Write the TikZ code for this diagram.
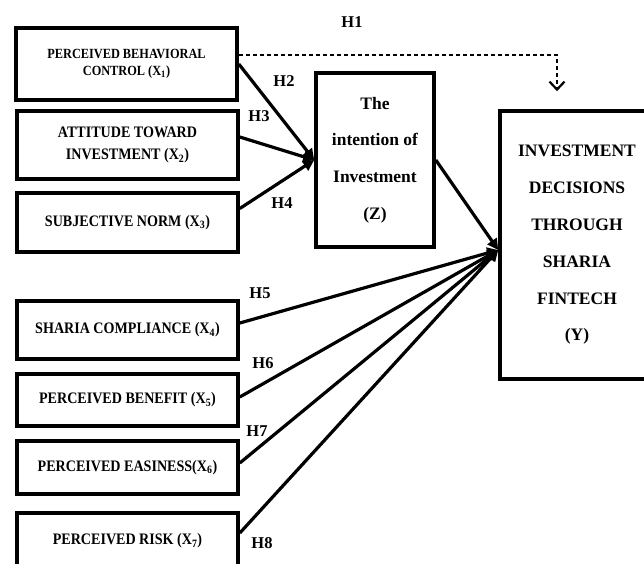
\documentclass[tikz,border=0pt]{standalone}
\usepackage{fontspec}
\setmainfont{Liberation Serif}
\newfontfamily\condfont{Liberation Serif}[FakeStretch=0.88]
\usepackage{tikz}
\usetikzlibrary{arrows.meta}
\tikzset{
  varbox/.style={rectangle,draw=black,line width=3.6pt,minimum width=221pt,align=center,inner sep=2pt,
    font=\condfont\bfseries\fontsize{16}{22}\selectfont},
  latbox/.style={rectangle,draw=black,line width=3.6pt,align=center,inner sep=2pt,
    font=\bfseries\fontsize{17.5}{36.8}\selectfont},
  link/.style={line width=3.2pt,-{Triangle[length=11pt,width=11pt]}},
  hlink/.style={line width=1.7pt,dash pattern=on 4pt off 3pt,-{Straight Barb[length=8pt,width=15pt,line width=2.2pt]}},
  hlab/.style={font=\bfseries\fontsize{16.5}{18}\selectfont,inner sep=0pt},
}

\begin{document}
\begin{tikzpicture}[x=1pt,y=-1pt]
  \useasboundingbox (0,0) rectangle (644,563);

  % exogenous variables
  \node[varbox,minimum height=72pt,font=\condfont\bfseries\fontsize{14}{17}\selectfont] (x1) at (126.5,64) {PERCEIVED BEHAVIORAL\\CONTROL (X\textsubscript{1})};
  \node[varbox,minimum height=68pt] (x2) at (127.5,145) {ATTITUDE TOWARD\\INVESTMENT (X\textsubscript{2})};
  \node[varbox,minimum height=59pt] (x3) at (127.5,222.5) {SUBJECTIVE NORM (X\textsubscript{3})};
  \node[varbox,minimum height=58pt] (x4) at (127.5,330) {SHARIA COMPLIANCE (X\textsubscript{4})};
  \node[varbox,minimum height=52pt] (x5) at (127.5,400) {PERCEIVED BENEFIT (X\textsubscript{5})};
  \node[varbox,minimum height=53pt] (x6) at (127.5,467.5) {PERCEIVED EASINESS(X\textsubscript{6})};
  \node[varbox,minimum height=56pt] (x7) at (127.5,541) {PERCEIVED RISK (X\textsubscript{7})};
  % intervening and dependent variables
  \node[latbox,minimum width=118pt,minimum height=174pt] (z) at (375,160) {The\\intention of\\Investment\\(Z)};
  \node[latbox,minimum width=154pt,minimum height=268pt] (y) at (577,245) {INVESTMENT\\DECISIONS\\THROUGH\\SHARIA\\FINTECH\\(Y)};

  % paths to Z
  \draw[link] (x1.east) -- (z.west);
  \draw[link] ([yshift=8pt]x2.east) -- (z.west);
  \draw[link] ([yshift=14pt]x3.east) -- (z.west);
  % paths to Y
  \draw[link] (z.east) -- ([yshift=-5pt]y.west);
  \draw[link] ([yshift=7pt]x4.east) -- ([yshift=-5pt]y.west);
  \draw[link] ([yshift=3pt]x5.east) -- ([yshift=-5pt]y.west);
  \draw[link] ([yshift=4.5pt]x6.east) -- ([yshift=-5pt]y.west);
  \draw[link] ([yshift=8pt]x7.east) -- ([yshift=-5pt]y.west);
  % direct effect
  \draw[hlink] ([yshift=9pt]x1.east) -| ([xshift=-20pt,yshift=18pt]y.north);

  % hypotheses
  \node[hlab] (h1) at (352,22) {H1};
  \node[hlab] (h2) at (284,81) {H2};
  \node[hlab] (h3) at (259,116) {H3};
  \node[hlab] (h4) at (282,203) {H4};
  \node[hlab] (h5) at (260,293) {H5};
  \node[hlab] (h6) at (263,363) {H6};
  \node[hlab] (h7) at (257,431) {H7};
  \node[hlab] (h8) at (262,543) {H8};
\end{tikzpicture}
\end{document}
